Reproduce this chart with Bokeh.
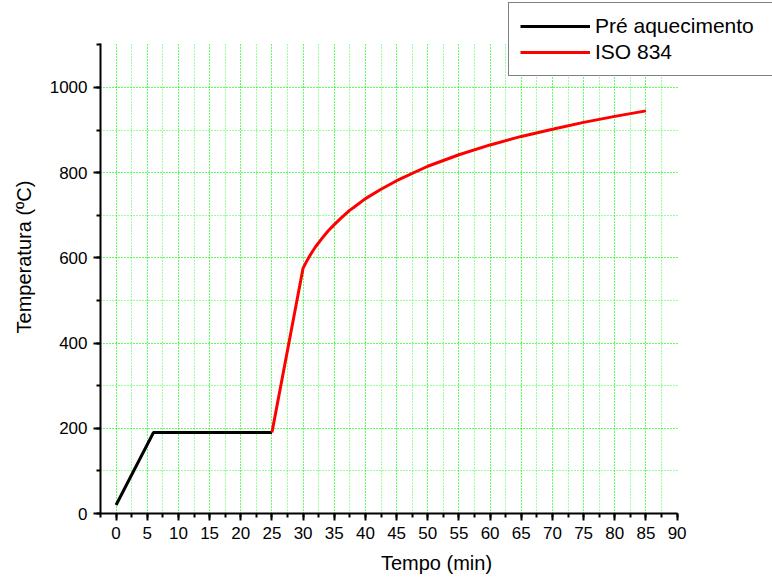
from bokeh.plotting import figure
from bokeh.models import SingleIntervalTicker, Range1d, Legend, LegendItem
from bokeh.embed import file_html
from bokeh.resources import INLINE

# Data
pre_t = [0, 6, 25]
pre_temp = [20, 190, 190]

iso_t = [25, 30, 30.5, 31, 31.5, 32, 33, 34, 35, 36, 37.5, 38, 40, 42.5, 45, 50, 55, 60, 65, 70, 75, 80, 85]
iso_temp = [190, 576, 590, 603, 615, 626, 645, 663, 678, 692, 712, 717, 739, 761, 781, 815, 842, 865, 885, 902, 918, 932, 945]

x_ticks_interval = 5
y_ticks_interval = 200
x_shown = (-2.5, 90)
y_shown = (0, 1103)

FONT = "Liberation Sans"

p = figure(width=772, height=579, output_backend="svg", toolbar_location=None,
           x_range=Range1d(-2.5, 105.3), y_range=Range1d(0, 1204),
           min_border_left=100, min_border_right=0, min_border_top=0, min_border_bottom=66)
p.outline_line_color = None
p.background_fill_color = "white"

r1 = p.line(pre_t, pre_temp, line_color="black", line_width=3)
r2 = p.line(iso_t, iso_temp, line_color="#FF0000", line_width=3)

p.xaxis.ticker = SingleIntervalTicker(interval=x_ticks_interval, num_minor_ticks=2)
p.yaxis.ticker = SingleIntervalTicker(interval=y_ticks_interval, num_minor_ticks=2)
p.xaxis.bounds = x_shown
p.yaxis.bounds = y_shown

for ax in (p.xaxis, p.yaxis):
    ax.axis_line_width = 2
    ax.major_tick_line_width = 2
    ax.minor_tick_line_width = 2
    ax.major_tick_out = 7
    ax.major_tick_in = 0
    ax.minor_tick_out = 4
    ax.minor_tick_in = 0
    ax.major_label_text_font = FONT
    ax.major_label_text_font_size = "17px"
    ax.major_label_text_color = "black"
    ax.axis_label_text_font = FONT
    ax.axis_label_text_font_size = "20px"
    ax.axis_label_text_font_style = "normal"
    ax.axis_label_text_color = "black"
    ax.major_label_standoff = 6

p.xaxis.axis_label = "Tempo (min)"
p.yaxis.axis_label = "Temperatura (ºC)"
p.xaxis.axis_label_standoff = 10
p.yaxis.axis_label_standoff = 12

for g in (p.xgrid, p.ygrid):
    g.grid_line_color = "#00FF00"
    g.grid_line_dash = "1 2"
    g.grid_line_width = 1
    g.grid_line_alpha = 0.8
    g.minor_grid_line_color = "#00FF00"
    g.minor_grid_line_dash = "1 2"
    g.minor_grid_line_width = 1
    g.minor_grid_line_alpha = 0.8

p.xgrid.bounds = (-2.5, 89)
p.xgrid.cross_bounds = y_shown
p.ygrid.bounds = (0, 1050)
p.ygrid.cross_bounds = x_shown

legend = Legend(items=[LegendItem(label="Pré aquecimento", renderers=[r1]),
                       LegendItem(label="ISO 834", renderers=[r2])],
                location=(408, 437))
legend.label_text_font = FONT
legend.label_text_font_size = "21px"
legend.label_text_color = "black"
legend.glyph_width = 70
legend.glyph_height = 22
legend.label_height = 22
legend.label_width = 176
legend.label_standoff = 5
legend.padding = 11
legend.spacing = 2
legend.margin = 0
legend.border_line_color = "black"
legend.border_line_width = 1.5
legend.background_fill_color = "white"
legend.background_fill_alpha = 1
p.add_layout(legend, "center")

open("out.html", "w").write(file_html(p, INLINE))
